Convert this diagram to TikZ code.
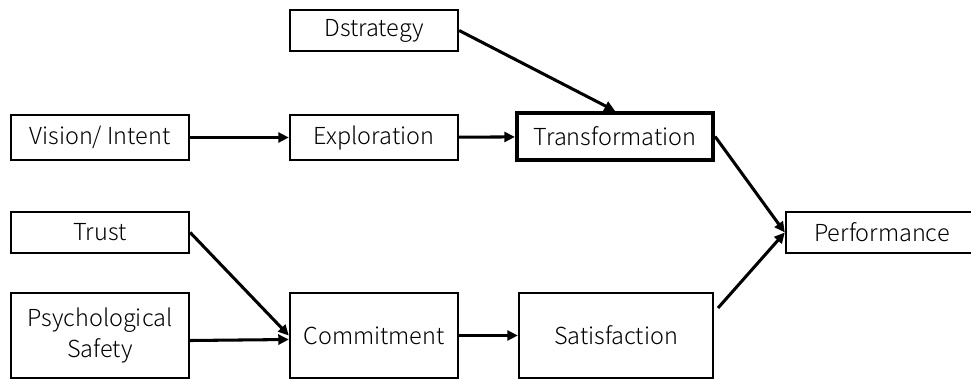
\documentclass[tikz,border=0pt]{standalone}
\usepackage{fontspec}
\setmainfont{Noto Sans CJK JP Light}
\usetikzlibrary{arrows.meta}
\begin{document}
\begin{tikzpicture}[x=0.03cm,y=-0.03cm,>={Triangle[length=9pt,width=8.5pt]},font=\fontsize{20}{27}\selectfont,
	box/.style={draw,line width=2pt,rectangle,inner sep=0pt,align=center},
	link/.style={->,line width=2.6pt}]
		\useasboundingbox (0,0) rectangle (971,379);
		\node[box,minimum width=5.04cm,minimum height=1.23cm] (dstr) at (374,30.5) {Dstrategy};
		\node[box,minimum width=5.34cm,minimum height=1.35cm] (vis) at (100,137.5) {Vision/ Intent};
		\node[box,minimum width=5.04cm,minimum height=1.35cm] (expl) at (374,137.5) {Exploration};
		\node[box,line width=3.6pt,minimum width=5.88cm,minimum height=1.41cm] (trans) at (615,136.5) {Transformation};
		\node[box,minimum width=5.34cm,minimum height=1.23cm] (trust) at (100,232.5) {Trust};
		\node[box,minimum width=5.34cm,minimum height=2.55cm] (psych) at (100,335.5) {Psychological\\Safety};
		\node[box,minimum width=5.04cm,minimum height=2.55cm] (commit) at (374,335.5) {Commitment};
		\node[box,minimum width=5.82cm,minimum height=2.55cm] (sat) at (616,335.5) {Satisfaction};
		\node[box,minimum width=5.76cm,minimum height=1.23cm] (perf) at (882,232.5) {Performance};
		\coordinate (satout) at (718,308);
		\draw[link](dstr.east)--(trans.north);
		\draw[link](vis)--(expl);
		\draw[link](expl)--(trans);
		\draw[link](trans.east)--(perf.west);
		\draw[link](satout)--(perf.west);
		\draw[link](trust.east)--(commit.west);
		\draw[link]([yshift=-0.15cm]psych.east)--([yshift=-0.12cm]commit.west);
		\draw[link](commit)--(sat);
\end{tikzpicture}
\end{document}
